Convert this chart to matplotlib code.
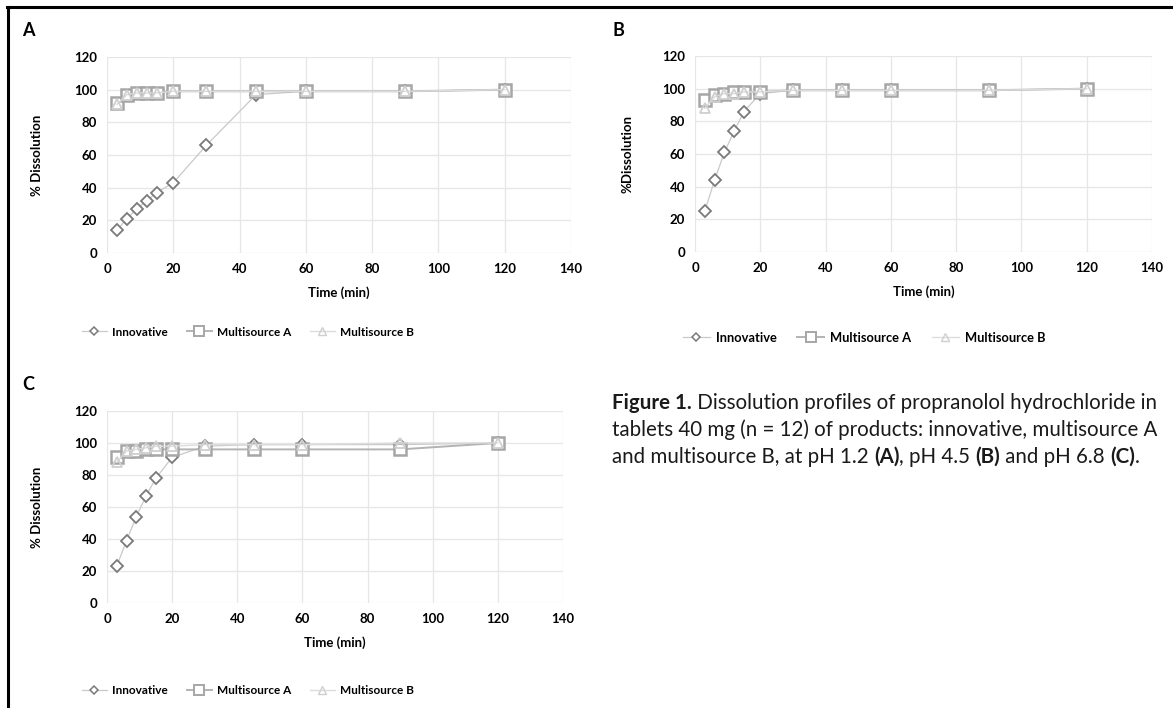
import matplotlib
matplotlib.use('Agg')
import matplotlib.pyplot as plt
from matplotlib.lines import Line2D

# sampling times (min)
time_min = [3, 6, 9, 12, 15, 20, 30, 45, 60, 90, 120]

# pH 1.2 (A)
a_innov = [14, 21, 27, 32, 37, 43, 66, 97, 99, 99, 100]
a_msa = [92, 97, 98, 98, 98, 99, 99, 99, 99, 99, 100]
a_msb = [91, 97, 98, 98, 98, 99, 99, 99, 99, 99, 100]

# pH 4.5 (B)
b_innov = [25, 44, 61, 74, 86, 97, 99, 99, 99, 99, 100]
b_msa = [93, 96, 97, 98, 98, 98, 99, 99, 99, 99, 100]
b_msb = [88, 95, 97, 97, 98, 98, 99, 99, 99, 99, 100]

# pH 6.8 (C)
c_innov = [23, 39, 54, 67, 78, 91, 98, 99, 99, 99, 100]
c_msa = [91, 95, 95, 96, 96, 96, 96, 96, 96, 96, 100]
c_msb = [88, 95, 96, 97, 98, 98, 99, 99, 99, 100, 100]

series_names = ['Innovative', 'Multisource A', 'Multisource B']
x_ticks = [0, 20, 40, 60, 80, 100, 120, 140]
y_ticks = [0, 20, 40, 60, 80, 100, 120]

FONT = 'Lato'
plt.rcParams['font.family'] = [FONT, 'DejaVu Sans']

W, H = 1173, 708
fig = plt.figure(figsize=(W / 100, H / 100), dpi=100)

# styles
innov_style = dict(color='#c9c9c9', lw=0.9, marker='D', ms=6.3, mfc='white',
                   mec='#7a7a7a', mew=1.3)
msa_style = dict(color='#b3b3b3', lw=1.4, marker='s', ms=9, mfc='white',
                 mec='#a6a6a6', mew=1.8)
msb_style = dict(color='#dcdcdc', lw=1.0, marker='^', ms=7, mfc='none',
                 mec='#cfcfcf', mew=1.3)


def px_ax(x0, x1, y_top, y_bot):
  return [x0 / W, 1 - y_bot / H, (x1 - x0) / W, (y_bot - y_top) / H]


def panel(box, innov, msa, msb, ylabel, ylabel_px, xlabel_px):
  x0, x1, y_top, y_bot = box
  ax = fig.add_axes(px_ax(x0, x1, y_top, y_bot))
  ax.plot(time_min, innov, zorder=3, **innov_style)
  ax.plot(time_min, msa, zorder=4, **msa_style)
  ax.plot(time_min, msb, zorder=5, **msb_style)
  ax.set_xlim(0, 140)
  ax.set_ylim(0, 120)
  ax.set_xticks(x_ticks)
  ax.set_yticks(y_ticks)
  ax.grid(True, color='#e6e6e6', lw=0.9)
  ax.set_axisbelow(True)
  for s in ax.spines.values():
    s.set_visible(False)
  ax.tick_params(length=0, labelsize=9.5, pad=7)
  for lab in ax.get_xticklabels() + ax.get_yticklabels():
    lab.set_fontweight('bold')
  ax.set_xlabel('Time (min)', fontsize=9.5, fontweight='bold', va='center')
  ax.xaxis.set_label_coords(0.5, -(xlabel_px - y_bot) / (y_bot - y_top))
  ax.set_ylabel(ylabel, fontsize=9.5, fontweight='bold', va='center')
  ax.yaxis.set_label_coords((ylabel_px - x0) / (x1 - x0), 0.5)
  return ax


panel((107, 571, 57, 253), a_innov, a_msa, a_msb, '% Dissolution', 37, 293)
panel((695, 1152, 56, 252), b_innov, b_msa, b_msb, '%Dissolution', 627, 292)
panel((107, 563, 411, 603), c_innov, c_msa, c_msb, '% Dissolution', 37, 643)

# legends (smaller markers than in the plot)
handles = [
  Line2D([], [], **dict(innov_style, ms=4.5, mew=1.1)),
  Line2D([], [], **dict(msa_style, ms=6.5, mew=1.4)),
  Line2D([], [], **dict(msb_style, ms=5.5, mew=1.0)),
]
# (centre x, centre y, font size) per panel legend
legend_spots = [(248, 332, 8.5), (864, 338, 9.3), (248, 691, 8.5)]
for cx, cy, fs in legend_spots:
  fig.legend(handles, series_names, loc='center', bbox_to_anchor=(cx / W, 1 - cy / H),
             ncol=3, frameon=False, prop={'family': FONT, 'weight': 'bold', 'size': fs},
             handlelength=2.1, columnspacing=1.6, handletextpad=0.45)

# panel letters
for letter, (lx, ly) in zip('ABC', [(22, 31), (612, 31), (22, 385)]):
  fig.text(lx / W, 1 - ly / H, letter, fontsize=13, fontweight='bold', va='center')

# border lines (top and left)
fig.add_artist(Line2D([7 / W, 1], [1 - 7 / H, 1 - 7 / H], color='black', lw=2.2))
fig.add_artist(Line2D([8 / W, 8 / W], [0, 1 - 7 / H], color='black', lw=2.2))

# caption with mixed weights
caption_lines = [
  [('Figure 1.', 'bold'), (' Dissolution profiles of propranolol hydrochloride in', 'normal')],
  [('tablets 40 mg (n = 12) of products: innovative, multisource A', 'normal')],
  [('and multisource B, at pH 1.2 ', 'normal'), ('(A)', 'bold'), (', pH 4.5 ', 'normal'),
   ('(B)', 'bold'), (' and pH 6.8 ', 'normal'), ('(C)', 'bold'), ('.', 'normal')],
]
renderer = fig.canvas.get_renderer()
for i, parts in enumerate(caption_lines):
  x = 612
  y = 403 + i * 27
  for txt, wt in parts:
    t = fig.text(x / W, 1 - y / H, txt, fontsize=14.8, fontweight=wt, va='center',
                 ha='left', color='#1a1a1a')
    bb = t.get_window_extent(renderer=renderer)
    x += bb.width

fig.savefig('out.png', dpi=100)
